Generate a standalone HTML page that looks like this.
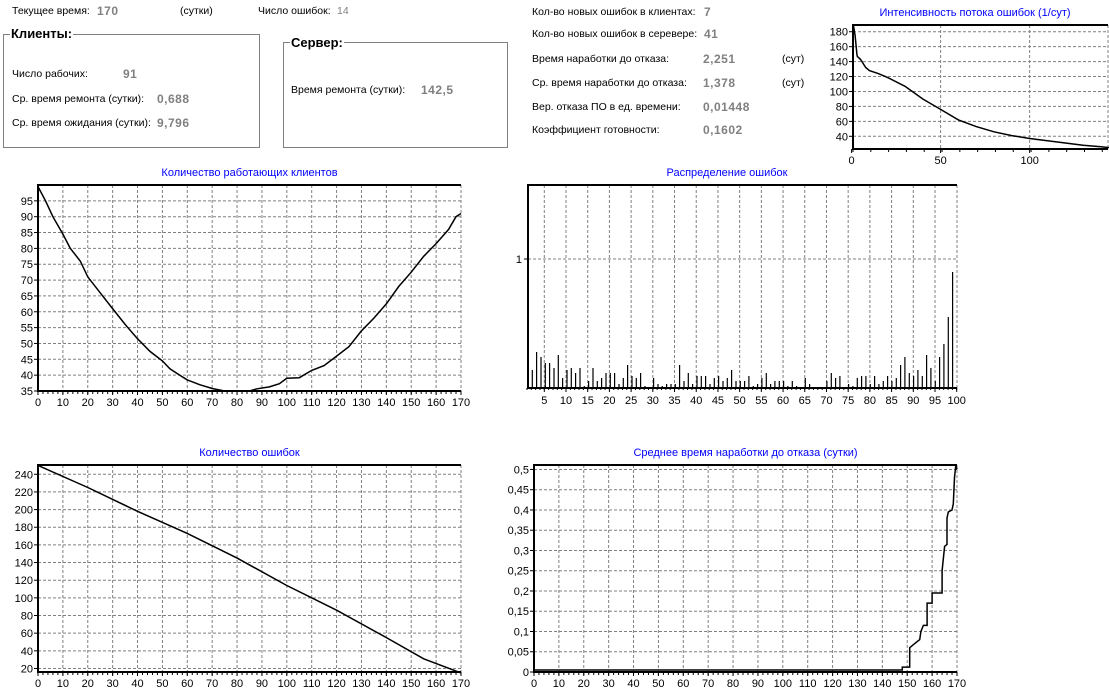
<!DOCTYPE html>
<html><head><meta charset="utf-8">
<style>
html,body{margin:0;padding:0;background:#fff;}
body{width:1109px;height:695px;position:relative;overflow:hidden;font-family:"Liberation Sans",sans-serif;font-size:11px;color:#000;}
.t{position:absolute;white-space:nowrap;line-height:13px;font-size:10.5px;}
.v{position:absolute;white-space:nowrap;color:#808080;font-weight:bold;font-size:12px;line-height:13px;letter-spacing:0.5px;}
.box{position:absolute;border:1px solid #808080;}
.bt{position:absolute;background:#fff;font-weight:bold;font-size:13px;padding:0 1px;line-height:14px;}
svg{position:absolute;left:0;top:0;}
</style></head><body>
<div class="t" style="left:12px;top:5px">Текущее время:</div>
<div class="v" style="left:97px;top:5px">170</div>
<div class="t" style="left:180px;top:5px">(сутки)</div>
<div class="t" style="left:258px;top:5px">Число ошибок:</div>
<div class="t" style="left:337px;top:5px;color:#808080">14</div>

<div class="box" style="left:3px;top:34px;width:255px;height:112px"></div>
<div class="bt" style="left:10px;top:27px">Клиенты:</div>
<div class="t" style="left:12px;top:68px">Число рабочих:</div>
<div class="v" style="left:123px;top:68px">91</div>
<div class="t" style="left:12px;top:93px">Ср. время ремонта (сутки):</div>
<div class="v" style="left:157px;top:93px">0,688</div>
<div class="t" style="left:12px;top:117px">Ср. время ожидания (сутки):</div>
<div class="v" style="left:157px;top:117px">9,796</div>

<div class="box" style="left:283px;top:42px;width:223px;height:104px"></div>
<div class="bt" style="left:290px;top:36px">Сервер:</div>
<div class="t" style="left:291px;top:84px">Время ремонта (сутки):</div>
<div class="v" style="left:421px;top:84px">142,5</div>

<div class="t" style="left:532px;top:6px">Кол-во новых ошибок в клиентах:</div>
<div class="v" style="left:704px;top:6px">7</div>
<div class="t" style="left:532px;top:28px">Кол-во новых ошибок в серевере:</div>
<div class="v" style="left:704px;top:28px">41</div>
<div class="t" style="left:532px;top:53px">Время наработки до отказа:</div>
<div class="v" style="left:703px;top:53px">2,251</div>
<div class="t" style="left:782px;top:53px">(сут)</div>
<div class="t" style="left:532px;top:77px">Ср. время наработки до отказа:</div>
<div class="v" style="left:703px;top:77px">1,378</div>
<div class="t" style="left:782px;top:77px">(сут)</div>
<div class="t" style="left:532px;top:101px">Вер. отказа ПО в ед. времени:</div>
<div class="v" style="left:703px;top:101px">0,01448</div>
<div class="t" style="left:532px;top:124px">Коэффициент готовности:</div>
<div class="v" style="left:703px;top:124px">0,1602</div>

<svg id="s" width="1109" height="695" xmlns="http://www.w3.org/2000/svg" font-family="Liberation Sans, sans-serif" font-size="11"></svg>
<script>
var S=document.getElementById('s'),h='';
function L(x1,y1,x2,y2,st){h+='<line x1="'+x1+'" y1="'+y1+'" x2="'+x2+'" y2="'+y2+'" '+st+'/>';}
function T(x,y,s,a,c){h+='<text x="'+x+'" y="'+y+'" text-anchor="'+(a||'middle')+'"'+(c?' fill="'+c+'"':'')+'>'+s+'</text>';}
var G='stroke="#808080" stroke-dasharray="3,2" stroke-width="1"';
function chart(o){
 var X=function(v){return o.x0+(v-o.xmin)/(o.xmax-o.xmin)*(o.x1-o.x0);};
 var Y=function(v){return o.y1-(v-o.ymin)/(o.ymax-o.ymin)*(o.y1-o.y0);};
 T((o.tx||(o.x0+o.x1)/2),o.y0-9,o.title,'middle','#0000ff');
 o.xg.forEach(function(v){L(X(v),o.y0,X(v),o.y1,G);});
 o.yg.forEach(function(v){L(o.x0,Y(v),o.x1,Y(v),G);});
 L(o.x1,o.y0,o.x1,o.y1,G);
 if(o.minor){for(var v=o.xmin;v<=o.xmax;v+=o.minor)L(X(v),o.y1,X(v),o.y1+3,'stroke="#000"');}
 o.xl.forEach(function(v){L(X(v),o.y1,X(v),o.y1+4,'stroke="#000"');T(X(v),o.y1+15,(''+v).replace('.',','));});
 o.yl.forEach(function(v){L(o.x0-4,Y(v),o.x0,Y(v),'stroke="#000"');T(o.x0-5,Y(v)+4,(''+v).replace('.',','),'end');});
 L(o.x0,o.y0,o.x1,o.y0,'stroke="#000" stroke-width="2"');
 L(o.x0,o.y0-1,o.x0,o.y1+1,'stroke="#000" stroke-width="2"');
 L(o.x0-1,o.y1,o.x1,o.y1,'stroke="#000" stroke-width="2"');
 if(o.pts){var p=o.pts.map(function(q){return X(q[0]).toFixed(1)+','+Y(q[1]).toFixed(1);}).join(' ');
  h+='<polyline points="'+p+'" fill="none" stroke="#000" stroke-width="1.5"/>';}
 return {X:X,Y:Y};
}
function rng(a,b,s){var r=[];for(var v=a;v<=b+1e-9;v+=s)r.push(Math.round(v*1000)/1000);return r;}
var cp=[[0,99.5],[3,95],[6,90],[10,84.5],[13,80],[17,76],[20,71],[25,66],[30,61],[35,56],[40,51.5],[45,47.5],[50,44.5],[53,42],[57,40],[60,38.5],[65,37],[70,35.8],[75,35],[85,35],[88,35.7],[93,36.3],[97,37.3],[100,39],[105,39.2],[110,41.5],[115,43],[120,46],[125,49],[130,54],[135,58],[140,62.5],[145,68],[150,72.5],[155,77.5],[160,81.5],[165,86],[168,90],[170,91]];
chart({x0:38,x1:461,y0:185,y1:391,xmin:0,xmax:170,ymin:35,ymax:100,title:'Количество работающих клиентов',
 xg:rng(10,160,10),yg:rng(40,95,5),xl:rng(0,170,10),yl:rng(35,95,5),minor:2,pts:cp});
chart({x0:38,x1:461,y0:465,y1:672,xmin:0,xmax:170,ymin:16,ymax:250.5,title:'Количество ошибок',
 xg:rng(10,160,10),yg:rng(20,240,20),xl:rng(0,170,10),yl:rng(20,240,20),minor:2,pts:[[0,250],[20,225],[40,198],[60,173],[80,145],[100,114],[120,86],[140,55],[155,31],[170,15]]});
var ap=[[0,0.005],[148,0.005],[148,0.012],[151,0.012],[151,0.06],[153,0.07],[155,0.08],[155.5,0.1],[156.5,0.115],[158,0.115],[158,0.17],[160,0.17],[160,0.195],[164,0.195],[164,0.25],[165,0.31],[166,0.315],[166,0.38],[166.5,0.395],[168,0.4],[168.5,0.415],[169,0.48],[169.5,0.51],[170,0.5]];
chart({x0:534,x1:957,y0:465,y1:672,xmin:0,xmax:170,ymin:0,ymax:0.511,title:'Среднее время наработки до отказа (сутки)',
 xg:rng(10,160,10),yg:rng(0.05,0.5,0.05),xl:rng(0,170,10),yl:rng(0,0.5,0.05),minor:2,pts:ap});
var ip=[[1,189],[2,175],[3,150],[3.2,147],[5,143],[8,132],[10,128],[15,124],[20,119],[30,107],[40,90],[50,76],[60,62],[70,53],[80,46],[90,41],[100,37],[110,34],[120,31],[130,28],[140,26],[146,24.5]];
chart({x0:853,x1:1108,y0:25,y1:149,xmin:0.8,xmax:144,ymin:23,ymax:189,title:'Интенсивность потока ошибок  (1/сут)',tx:975,
 xg:[50,100],yg:rng(40,180,20),xl:[0,50,100],yl:rng(40,180,20),minor:10,pts:ip});
var dv=[630,576,591,609,609,624,585,654,630,624,639,624,678,663,624,663,654,639,639,639,672,654,615,648,654,639,678,686,654,672,678,672,672,672,615,663,639,672,648,648,648,672,654,648,663,654,630,663,663,663,648,678,672,654,639,672,663,663,663,678,663,678,686,654,672,686,686,686,663,639,654,648,686,672,678,654,648,648,672,648,672,663,648,663,654,615,591,639,648,630,648,585,624,663,591,552,471,336];
var dx0=528,dx1=957,dy0=185,dy1=388;
var DX=function(v){return 544.3+(v-5)*(956.7-544.3)/95;};
T(727,176,'Распределение ошибок','middle','#0000ff');
for(var v=5;v<=95;v+=5)L(DX(v),dy0,DX(v),dy1,G);
L(dx0,259,dx1,259,G);L(dx1,dy0,dx1,dy1,G);
L(dx0-4,259,dx0,259,'stroke="#000"');T(dx0-6,263,'1','end');
for(var v=5;v<=100;v+=5){L(DX(v),dy1,DX(v),dy1+4,'stroke="#000"');T(DX(v),dy1+16,v);}
for(var v=1;v<=100;v++)L(DX(v),dy1,DX(v),dy1+2,'stroke="#000"');
dv.forEach(function(t,k){var x=(532.3+4.333*k).toFixed(1);var y=160+t/3;if(y<dy1)L(x,y,x,dy1,'stroke="#000" stroke-width="1.2"');});
L(dx0,dy0,dx1,dy0,'stroke="#000" stroke-width="2"');
L(dx0,dy0-1,dx0,dy1+1,'stroke="#000" stroke-width="2"');
L(dx0-1,dy1,dx1,dy1,'stroke="#000" stroke-width="2"');
S.innerHTML=h;
</script>
</body></html>
